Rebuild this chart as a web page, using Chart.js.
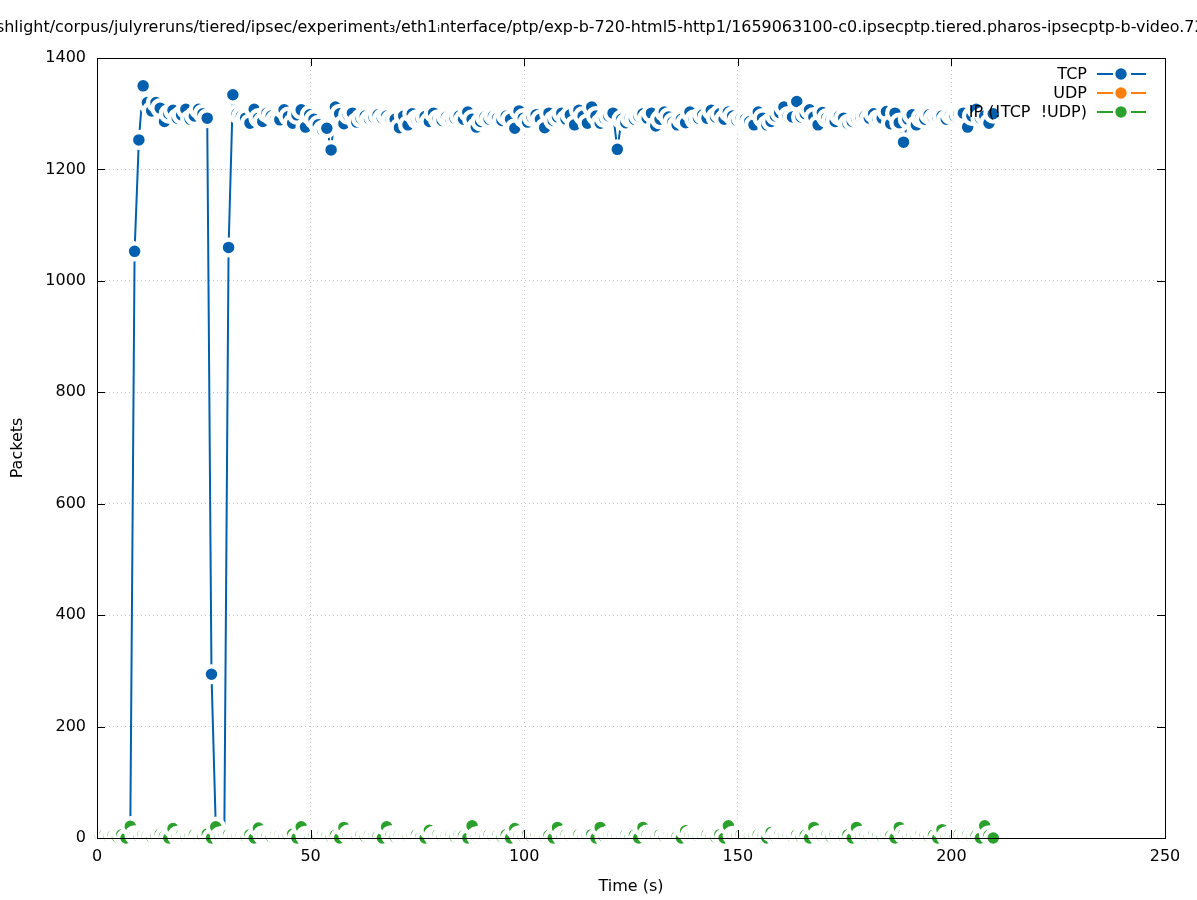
<!DOCTYPE html>
<html>
<head>
<meta charset="utf-8">
<title>Packets over time</title>
<script src="https://cdn.jsdelivr.net/npm/chart.js@4.4.1/dist/chart.umd.min.js"></script>
<style>
  html, body { margin: 0; padding: 0; background: #fff; }
  canvas { display: block; }
</style>
</head>
<body>
<canvas id="chart" width="1197" height="900"></canvas>
<script>
// --- DATOS ---
const chartTitle = 'flashlight/corpus/julyreruns/tiered/ipsec/experiment\u2083/eth1\u1d62nterface/ptp/exp-b-720-html5-http1/1659063100-c0.ipsecptp.tiered.pharos-ipsecptp-b-video.720p';
const seriesNames = ['TCP', 'UDP', 'IP (!TCP  !UDP)'];
const seriesColors = ['#0060ad', '#ff7f0e', '#2ca02c'];
const xTicks = [0, 50, 100, 150, 200, 250];
const yTicks = [0, 200, 400, 600, 800, 1000, 1200, 1400];

// one sample per second
const tcpStart = 7.8;
const tcpPackets = [
  21, 1053, 1253, 1350, 1320, 1305, 1320, 1310, 1286, 1300,
  1306, 1292, 1298, 1308, 1290, 1296, 1308, 1300, 1292, 294,
  20, 3, 5, 1060, 1334, 1300, 1296, 1292, 1283, 1308,
  1292, 1286, 1301, 1296, 1290, 1289, 1307, 1295, 1283, 1298,
  1307, 1276, 1298, 1290, 1280, 1271, 1274, 1235, 1312, 1300,
  1282, 1298, 1301, 1285, 1292, 1296, 1290, 1294, 1298, 1292,
  1296, 1290, 1290, 1275, 1296, 1280, 1300, 1290, 1292, 1295,
  1286, 1301, 1290, 1288, 1294, 1290, 1292, 1296, 1290, 1303,
  1290, 1276, 1286, 1294, 1290, 1296, 1292, 1288, 1296, 1290,
  1274, 1305, 1292, 1285, 1294, 1298, 1290, 1275, 1301, 1288,
  1294, 1301, 1290, 1298, 1280, 1306, 1296, 1283, 1312, 1296,
  1283, 1292, 1296, 1301, 1236, 1290, 1284, 1292, 1290, 1296,
  1300, 1292, 1301, 1278, 1290, 1303, 1294, 1285, 1280, 1290,
  1284, 1303, 1290, 1292, 1298, 1292, 1306, 1294, 1300, 1290,
  1303, 1296, 1288, 1292, 1290, 1286, 1280, 1303, 1292, 1280,
  1286, 1296, 1302, 1312, 1296, 1294, 1322, 1294, 1300, 1307,
  1294, 1280, 1302, 1292, 1288, 1286, 1296, 1292, 1282, 1286,
  1292, 1294, 1296, 1292, 1300, 1290, 1292, 1304, 1282, 1301,
  1284, 1249, 1290, 1298, 1280, 1292, 1290, 1298, 1292, 1294,
  1296, 1290, 1298, 1296, 1300, 1301, 1276, 1296, 1308, 1292,
  1296, 1283, 1300
];

const udpStart = 0.8;
const udpPackets = [];

const ipStart = 0.8;
const ipPackets = [
  4, 6, 3, 5, 2, 6, 0, 21, 5, 3,
  6, 4, 2, 5, 7, 3, 0, 17, 4, 6,
  3, 5, 6, 2, 4, 7, 0, 20, 3, 5,
  6, 2, 4, 5, 3, 6, 0, 18, 5, 4,
  2, 6, 5, 3, 4, 7, 0, 20, 4, 3,
  5, 3, 6, 4, 2, 5, 0, 19, 6, 4,
  3, 5, 2, 6, 4, 3, 0, 20, 5, 2,
  6, 4, 3, 5, 6, 2, 0, 14, 4, 6,
  3, 5, 4, 2, 6, 4, 0, 22, 3, 5,
  4, 6, 3, 5, 2, 6, 0, 17, 5, 3,
  6, 2, 5, 4, 3, 5, 0, 19, 4, 6,
  3, 5, 6, 2, 4, 6, 0, 19, 2, 5,
  5, 3, 4, 6, 3, 5, 0, 19, 6, 3,
  4, 6, 2, 5, 4, 3, 0, 13, 5, 4,
  3, 5, 6, 3, 2, 6, 0, 22, 4, 5,
  6, 3, 4, 5, 6, 2, 0, 10, 3, 6,
  4, 5, 3, 6, 2, 5, 0, 19, 5, 3,
  5, 2, 6, 4, 3, 6, 0, 19, 4, 5,
  3, 6, 4, 2, 5, 4, 0, 19, 6, 3,
  5, 3, 6, 4, 2, 5, 0, 15, 3, 5,
  4, 6, 3, 5, 2, 4, 0, 22, 5, 0
];

const FONT = { family: 'DejaVu Sans', size: 16 };

// punto azul r~5.7 con anillo blanco hasta r~10 (como gnuplot)
function lineSet(i, start, values, order) {
  return {
    label: seriesNames[i],
    data: values.map((v, k) => ({ x: start + k, y: v })),
    borderColor: seriesColors[i],
    backgroundColor: seriesColors[i],
    borderWidth: 2,
    pointRadius: 7.9,
    pointHoverRadius: 7.9,
    pointBorderWidth: 4.3,
    pointBorderColor: '#ffffff',
    pointBackgroundColor: seriesColors[i],
    tension: 0,
    clip: false,
    order
  };
}

// marco, ticks interiores, titulo y leyenda estilo gnuplot
const gnuFrame = {
  id: 'gnuFrame',
  afterDatasetsDraw(chart) {
    const { ctx, chartArea: a, scales: { x, y } } = chart;
    ctx.save();
    ctx.strokeStyle = '#000';
    ctx.lineWidth = 1;
    ctx.strokeRect(a.left + 0.5, a.top + 0.5, a.right - a.left, a.bottom - a.top);
    ctx.beginPath();
    xTicks.forEach(v => {
      const px = Math.round(x.getPixelForValue(v)) + 0.5;
      ctx.moveTo(px, a.bottom); ctx.lineTo(px, a.bottom - 8);
      ctx.moveTo(px, a.top); ctx.lineTo(px, a.top + 8);
    });
    yTicks.forEach(v => {
      const py = Math.round(y.getPixelForValue(v)) + 0.5;
      ctx.moveTo(a.left, py); ctx.lineTo(a.left + 8, py);
      ctx.moveTo(a.right, py); ctx.lineTo(a.right - 8, py);
    });
    ctx.stroke();

    ctx.font = '15.94px "DejaVu Sans"';
    ctx.fillStyle = '#000';
    ctx.textBaseline = 'middle';
    ctx.textAlign = 'center';
    ctx.fillText(chartTitle, chart.width / 2 + 2, 28);

    ctx.font = '16px "DejaVu Sans"';
    ctx.textAlign = 'right';
    seriesNames.forEach((name, i) => {
      const ly = 74 + i * 19;
      ctx.fillStyle = '#000';
      ctx.fillText(name, 1087, ly + 1);
      ctx.strokeStyle = seriesColors[i];
      ctx.lineWidth = 2;
      ctx.beginPath();
      ctx.moveTo(1097, ly); ctx.lineTo(1113, ly);
      ctx.moveTo(1131, ly); ctx.lineTo(1146, ly);
      ctx.stroke();
      ctx.fillStyle = seriesColors[i];
      ctx.beginPath();
      ctx.arc(1121, ly, 5.7, 0, Math.PI * 2);
      ctx.fill();
    });
    ctx.restore();
  }
};

new Chart(document.getElementById('chart'), {
  type: 'line',
  data: {
    datasets: [
      lineSet(0, tcpStart, tcpPackets, 3),
      lineSet(1, udpStart, udpPackets, 2),
      lineSet(2, ipStart, ipPackets, 1)
    ]
  },
  options: {
    responsive: false,
    animation: false,
    layout: { padding: { top: 58, right: 32, left: 0, bottom: 0 } },
    plugins: { legend: { display: false }, tooltip: { enabled: false }, title: { display: false } },
    scales: {
      x: {
        type: 'linear', min: 0, max: 250,
        afterBuildTicks: s => { s.ticks = xTicks.map(v => ({ value: v })); },
        afterFit: s => { s.height = 62; },
        grid: { color: '#c4c4c4', lineWidth: 1, drawTicks: false },
        border: { display: false, dash: [1, 3] },
        ticks: { font: FONT, color: '#000', padding: 9, maxRotation: 0, callback: v => String(v) },
        title: { display: true, text: 'Time (s)', font: FONT, color: '#000', padding: { top: 0, bottom: 4 } }
      },
      y: {
        type: 'linear', min: 0, max: 1400,
        afterBuildTicks: s => { s.ticks = yTicks.map(v => ({ value: v })); },
        afterFit: s => { s.width = 97; },
        grid: { color: '#c4c4c4', lineWidth: 1, drawTicks: false },
        border: { display: false, dash: [1, 3] },
        ticks: { font: FONT, color: '#000', padding: 11, callback: v => String(v) },
        title: { display: true, text: 'Packets', font: FONT, color: '#000', padding: { top: 8, bottom: 0 } }
      }
    }
  },
  plugins: [gnuFrame]
});
</script>
</body>
</html>
